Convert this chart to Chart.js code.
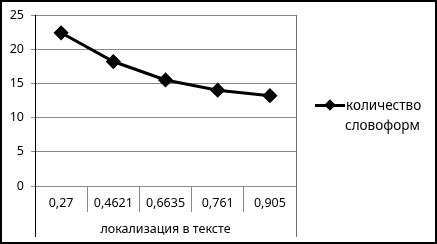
<!DOCTYPE html>
<html>
<head>
<meta charset="utf-8">
<script src="https://cdn.jsdelivr.net/npm/chart.js@4"></script>
<style>
    body { margin: 0; background: #fff; }
    #wrap { position: relative; width: 437px; height: 244px; }
    #chart { position: absolute; left: 0; top: 0; }
    #frame { position: absolute; left: 0; top: 0; width: 437px; height: 244px; box-sizing: border-box; border: 2px solid #000; pointer-events: none; }
    #legend { position: absolute; left: 315px; top: 95px; font: 13.5px "Noto Sans", sans-serif; color: #000; }
    #legend .row { display: flex; align-items: center; height: 20px; }
    #legend .mark { position: relative; width: 30px; height: 3px; background: #000; margin-right: 1px; }
    #legend .mark::after { content: ""; position: absolute; left: 11px; top: -3px; width: 8px; height: 8px; background: #000; transform: rotate(45deg); }
    #legend .second { padding-left: 30px; height: 21px; line-height: 21px; }
</style>
</head>
<body>
<div id="wrap">
    <canvas id="chart" width="437" height="244"></canvas>
    <div id="legend">
        <div class="row"><span class="mark"></span><span>количество</span></div>
        <div class="second">словоформ</div>
    </div>
    <div id="frame"></div>
</div>
<script>
// ==========================================
// данные графика
// ==========================================
const categories = ["0,27", "0,4621", "0,6635", "0,761", "0,905"];
const wordforms = [22.4, 18.2, 15.5, 14.0, 13.2];
const yTicks = [0, 5, 10, 15, 20, 25];
const seriesName = "количество словоформ";
const xTitle = "локализация в тексте";

const FONT = { family: "'Noto Sans', sans-serif", size: 12.5 };

// рамка области построения и продолжение осей вниз через подписи
const tableLines = {
    id: 'tableLines',
    afterDraw(chart) {
        const { ctx, chartArea, scales } = chart;
        ctx.save();
        ctx.lineWidth = 1;
        ctx.strokeStyle = '#000';
        ctx.beginPath();
        ctx.moveTo(chartArea.left + 0.5, chartArea.top);
        ctx.lineTo(chartArea.left + 0.5, scales.x.bottom);
        ctx.stroke();
        ctx.strokeStyle = '#6e6e6e';
        ctx.beginPath();
        ctx.moveTo(chartArea.right + 0.5, chartArea.top);
        ctx.lineTo(chartArea.right + 0.5, scales.x.bottom);
        ctx.stroke();
        ctx.restore();
    }
};

new Chart(document.getElementById('chart'), {
    type: 'line',
    data: {
        labels: categories,
        datasets: [{
            label: seriesName,
            data: wordforms,
            borderColor: '#000',
            backgroundColor: '#000',
            borderWidth: 3,
            pointStyle: 'rectRot',
            pointRadius: 5.5,
            pointHoverRadius: 5.5,
            tension: 0
        }]
    },
    options: {
        responsive: false,
        animation: false,
        layout: { padding: { top: 15, right: 141, bottom: 7, left: 0 } },
        plugins: {
            legend: { display: false },
            tooltip: { enabled: false }
        },
        scales: {
            x: {
                offset: true,
                grid: { offset: true, drawOnChartArea: false, drawTicks: true, tickLength: 26, color: '#8a8a8a' },
                border: { display: true, color: '#8a8a8a' },
                ticks: { color: '#000', font: FONT, padding: -16.5, maxRotation: 0 },
                title: { display: true, text: xTitle, color: '#000', font: FONT, padding: { top: 0, bottom: 0 } },
                afterFit(scale) { scale.height = 51; }
            },
            y: {
                min: 0,
                max: 25,
                afterBuildTicks(scale) { scale.ticks = yTicks.map(v => ({ value: v })); },
                grid: { color: '#8a8a8a', tickLength: 4 },
                border: { display: true, color: '#000' },
                ticks: { color: '#000', font: FONT, padding: 7 },
                afterFit(scale) { scale.width = 35; }
            }
        }
    },
    plugins: [tableLines]
});
</script>
</body>
</html>
